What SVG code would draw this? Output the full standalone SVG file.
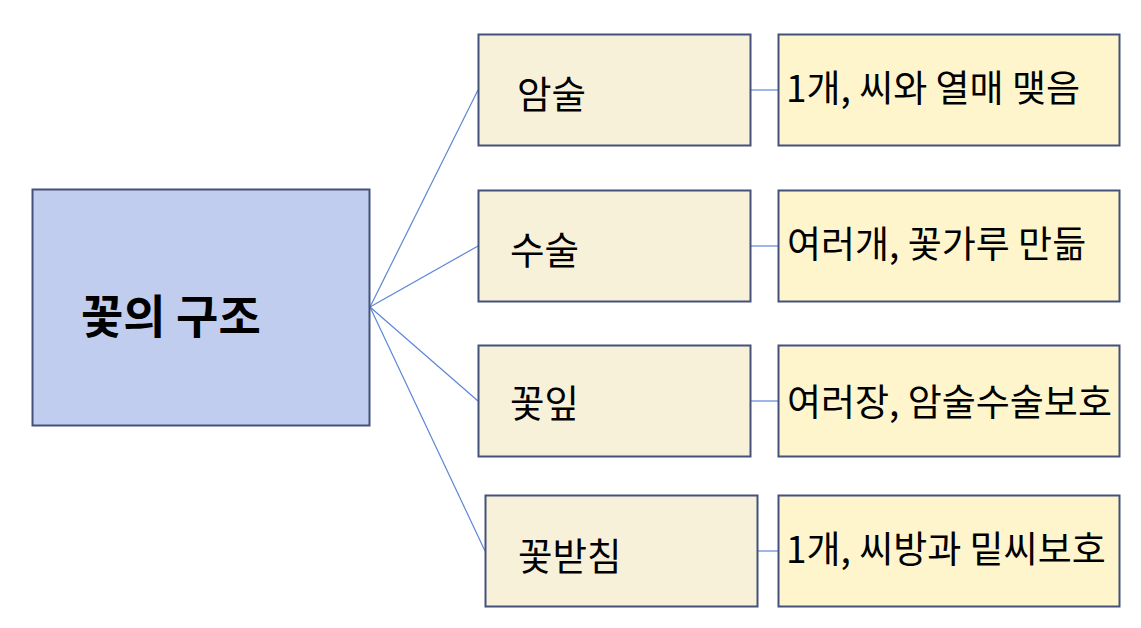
<svg xmlns="http://www.w3.org/2000/svg" width="1141" height="628" viewBox="0 0 1141 628">
<style>
.box{stroke:#44517A;stroke-width:2}
.main{fill:#C0CDEE}
.part{fill:#F8F1DA}
.desc{fill:#FEF5CC}
.lbl{font-family:"Noto Sans CJK KR","Noto Sans",sans-serif;fill:#000}
.p{font-size:37.5px}
.d{font-size:37px}
.conn line{stroke:#5B86D8;stroke-width:1.2}
</style>
<rect width="1141" height="628" fill="#FFFFFF"/>
<g class="conn" id="connectors">
<line x1="370" y1="307" x2="478" y2="90"/>
<line x1="370" y1="307" x2="478" y2="246"/>
<line x1="370" y1="307" x2="478" y2="401"/>
<line x1="370" y1="307" x2="485" y2="551"/>
<line x1="751" y1="90" x2="778" y2="90"/>
<line x1="751" y1="246" x2="778" y2="246"/>
<line x1="751" y1="401" x2="778" y2="401"/>
<line x1="758" y1="551" x2="778" y2="551"/>
</g>
<g id="n-main">
<rect class="box main" x="32.5" y="189.5" width="337" height="236"/>
<text class="lbl" x="81" y="333" font-size="46" font-weight="bold">꽃의 구조</text>
</g>
<g id="n-amsul">
<rect class="box part" x="478.5" y="34.5" width="272" height="111"/>
<text class="lbl p" x="517" y="108">암술</text>
</g>
<g id="n-susul">
<rect class="box part" x="478.5" y="190.5" width="272" height="111"/>
<text class="lbl p" x="510" y="264">수술</text>
</g>
<g id="n-kkotip">
<rect class="box part" x="478.5" y="345.5" width="272" height="111"/>
<text class="lbl p" x="510" y="416.5">꽃잎</text>
</g>
<g id="n-kkotbatchim">
<rect class="box part" x="485.5" y="495.5" width="272" height="111"/>
<text class="lbl p" x="518" y="570">꽃받침</text>
</g>
<g id="d-amsul">
<rect class="box desc" x="778.5" y="34.5" width="341" height="111"/>
<text class="lbl d" x="786" y="102">1개, 씨와 열매 맺음</text>
</g>
<g id="d-susul">
<rect class="box desc" x="778.5" y="190.5" width="341" height="111"/>
<text class="lbl d" x="787" y="258">여러개, 꽃가루 만듦</text>
</g>
<g id="d-kkotip">
<rect class="box desc" x="778.5" y="345.5" width="341" height="111"/>
<text class="lbl d" x="787" y="416">여러장, 암술수술보호</text>
</g>
<g id="d-kkotbatchim">
<rect class="box desc" x="778.5" y="495.5" width="341" height="111"/>
<text class="lbl d" x="786" y="563">1개, 씨방과 밑씨보호</text>
</g>
</svg>
